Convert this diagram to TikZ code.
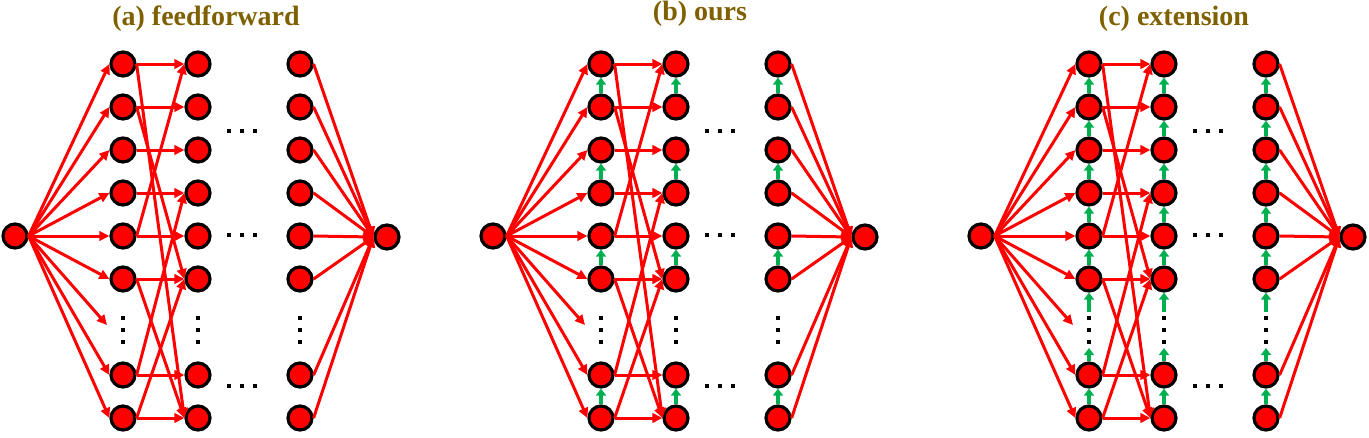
\documentclass[tikz,border=0pt]{standalone}
\usepackage{fontspec}
\setmainfont{Liberation Serif}
\usetikzlibrary{arrows.meta}
\definecolor{titlecol}{RGB}{127,96,0}
\definecolor{grn}{RGB}{0,176,80}
\tikzset{
  neuron/.style={circle, draw=black, fill=red, line width=3.2pt, minimum size=24pt, inner sep=0pt},
  redarrow/.style={draw=red, line width=3pt, -{Triangle[length=10pt,width=9.5pt]}},
  greenarrow/.style={draw=grn, line width=3.4pt, -{Triangle[length=7pt,width=10pt]}},
  paneltitle/.style={text=titlecol, font=\fontsize{28}{30}\selectfont\bfseries, anchor=base},
}
\newcommand\myhdots[1]{%
  \foreach \xx in {229,242,255} {\fill[black] (\xx-2.2,#1-2.2) rectangle (\xx+2.2,#1+2.2);}}
\newcommand\myvdots[1]{%
  \foreach \yy in {318,330,342} {\fill[black] (#1-2.2,\yy-2.2) rectangle (#1+2.2,\yy+2.2);}}
\newcommand\drawpanel[1]{%
  \node[neuron] (#1-in) at (15,236) {};
  \node[neuron] (#1-out) at (387,237) {};
  \foreach \r/\y in {1/64,2/107,3/150,4/193,5/236,6/279,8/375,9/418} {
    \node[neuron] (#1-c1-\r) at (123,\y) {};
    \node[neuron] (#1-c2-\r) at (198,\y) {};
    \node[neuron] (#1-c3-\r) at (300,\y) {};
  }
  \myvdots{123}\myvdots{198}\myvdots{300}
  \myhdots{131}\myhdots{235}\myhdots{386}
  \coordinate (#1-dt) at (107,325);
  \draw[redarrow] (#1-in.east) -- (#1-dt);
  \foreach \r in {1,2,3,4,5,6,8,9} {
    \draw[redarrow] (#1-in.east) -- (#1-c1-\r.west);
    \draw[redarrow] (#1-c1-\r.east) -- (#1-c2-\r.west);
    \draw[redarrow] (#1-c3-\r.east) -- (#1-out.west);
  }
  \foreach \s/\t in {1/9,2/6,6/9,5/1,8/4,9/6} {
    \draw[redarrow] (#1-c1-\s.east) -- (#1-c2-\t.west);
  }
}
\begin{document}
\begin{tikzpicture}[x=1pt,y=-1pt]
\useasboundingbox (0,0) rectangle (1369,437);
\node[paneltitle] (ta) at (206,25) {(a) feedforward};
\node[paneltitle] (tb) at (700,20) {(b) ours};
\node[paneltitle] (tc) at (1174,25) {(c) extension};
% panel a
\begin{scope}
  \drawpanel{a}
\end{scope}
% panel b
\begin{scope}[xshift=478pt]
  \drawpanel{b}
  \foreach \c in {c1,c2,c3} {
    \foreach \lo/\hi in {2/1,4/3,6/5,9/8} {
      \draw[greenarrow] (b-\c-\lo.north) -- (b-\c-\hi.south);
    }
  }
\end{scope}
% panel c
\begin{scope}[xshift=966pt]
  \drawpanel{c}
  \foreach \c/\xc in {c1/123,c2/198,c3/300} {
    \foreach \lo/\hi in {2/1,3/2,4/3,5/4,6/5,9/8} {
      \draw[greenarrow] (c-\c-\lo.north) -- (c-\c-\hi.south);
    }
    \coordinate (c-\c-da) at (\xc,312);
    \coordinate (c-\c-db) at (\xc,348);
    \draw[greenarrow] (c-\c-da) -- (c-\c-6.south);
    \draw[greenarrow] (c-\c-8.north) -- (c-\c-db);
  }
\end{scope}
\end{tikzpicture}
\end{document}
